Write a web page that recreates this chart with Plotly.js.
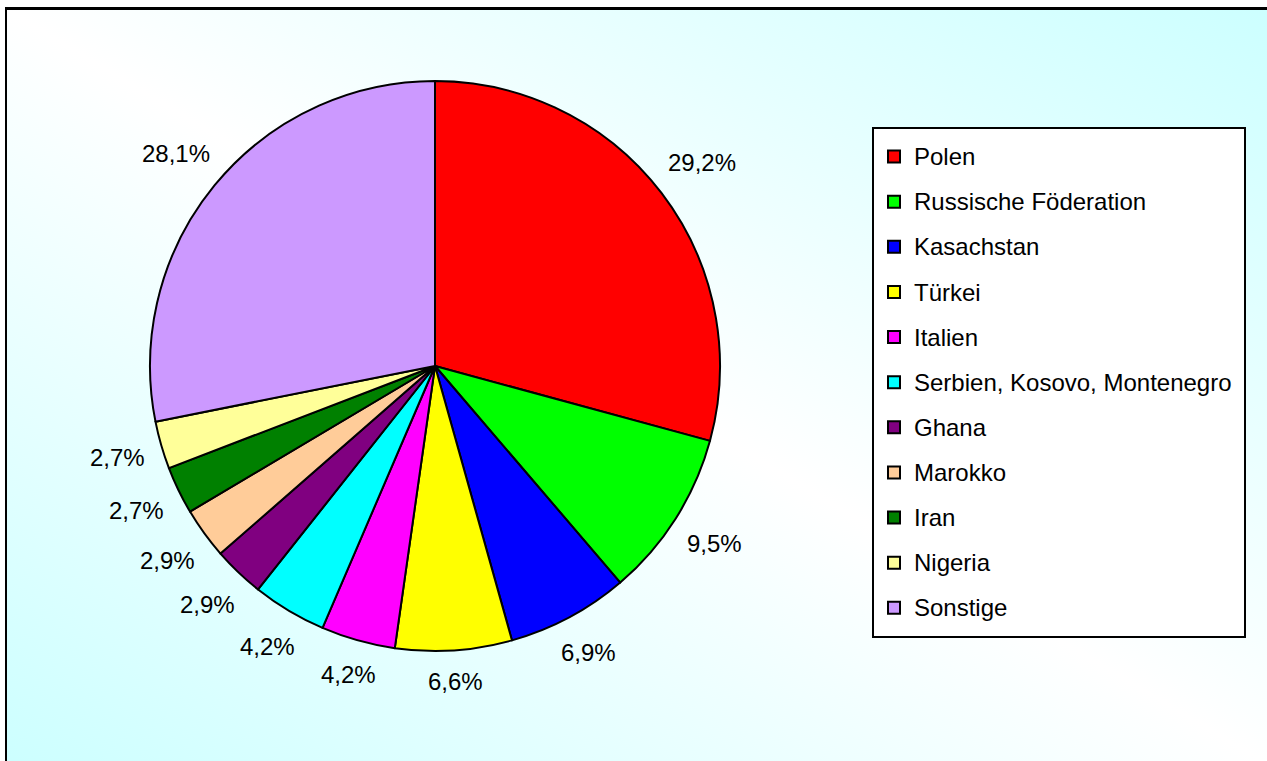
<!DOCTYPE html>
<html>
<head>
<meta charset="utf-8">
<script src="https://cdn.plot.ly/plotly-3.0.1.min.js"></script>
<style>
  html, body { margin: 0; padding: 0; background: #ffffff; width: 1267px; height: 761px; overflow: hidden; }
  #frame {
    position: absolute; left: 5px; top: 7px; width: 1270px; height: 760px;
    border-top: 3px solid #000; border-left: 2px solid #000;
    background: linear-gradient(to top right, #ccffff 0%, #ffffff 50%, #ccffff 100%);
  }
  #chart { position: absolute; left: 0; top: 0; width: 1267px; height: 761px; }
</style>
</head>
<body>
<div id="frame"></div>
<div id="chart"></div>
<script>
// Data
const countries = ["Polen", "Russische Föderation", "Kasachstan", "Türkei", "Italien",
  "Serbien, Kosovo, Montenegro", "Ghana", "Marokko", "Iran", "Nigeria", "Sonstige"];
const shares = [29.2, 9.5, 6.9, 6.6, 4.2, 4.2, 2.9, 2.9, 2.7, 2.7, 28.1];
const sliceColors = ["#ff0000", "#00ff00", "#0000ff", "#ffff00", "#ff00ff",
  "#00ffff", "#800080", "#ffcc99", "#008000", "#ffff99", "#cc99ff"];

const W = 1267, H = 761;
const cx = 435, cy = 366, R = 285;
const FONT = 'Liberation Sans, Arial, sans-serif';
const labelSize = 24;

const labels = countries.map(c => '<span style="font-size:24px;baseline-shift:4px">' + c + '&nbsp;</span>');

// percent labels placed outside each slice, computed from the data (clockwise from 12 o'clock)
const fmt = v => v.toFixed(1).replace('.', ',') + '%';
const ctx = document.createElement('canvas').getContext('2d');
ctx.font = labelSize + 'px "Liberation Sans"';
const total = shares.reduce((a, b) => a + b, 0);
let cum = 0;
const annotations = shares.map(v => {
  const th = 2 * Math.PI * (cum + v / 2) / total;
  cum += v;
  const s = Math.sin(th), c = Math.cos(th);
  const txt = fmt(v);
  const hw = ctx.measureText(txt).width / 2, hh = 13;
  const dist = R + 16 + hw * Math.abs(s) + hh * Math.abs(c);
  const px = cx + dist * s, py = cy - dist * c;
  return {
    xref: 'paper', yref: 'paper', x: px / W, y: 1 - py / H,
    xanchor: 'center', yanchor: 'middle', showarrow: false, text: txt,
    font: { family: FONT, size: labelSize, color: '#000000' }
  };
});

const trace = {
  type: 'pie',
  labels: labels,
  values: shares,
  sort: false,
  direction: 'clockwise',
  rotation: 0,
  marker: { colors: sliceColors, line: { color: '#000000', width: 2 } },
  textinfo: 'none',
  domain: { x: [(cx - R) / W, (cx + R) / W], y: [1 - (cy + R) / H, 1 - (cy - R) / H] },
  automargin: false,
  hoverinfo: 'none'
};

const layout = {
  width: W, height: H,
  margin: { l: 0, r: 0, t: 0, b: 0 },
  paper_bgcolor: 'rgba(0,0,0,0)',
  plot_bgcolor: 'rgba(0,0,0,0)',
  showlegend: true,
  annotations: annotations,
  legend: {
    x: 872 / W, y: 1 - 127 / H, xanchor: 'left', yanchor: 'top',
    bgcolor: '#ffffff', bordercolor: '#000000', borderwidth: 2,
    font: { family: FONT, size: 32.4, color: '#000000' },
    traceorder: 'normal'
  },
  font: { family: FONT, color: '#000000' }
};

Plotly.newPlot('chart', [trace], layout, { displayModeBar: false, staticPlot: true });
</script>
</body>
</html>
